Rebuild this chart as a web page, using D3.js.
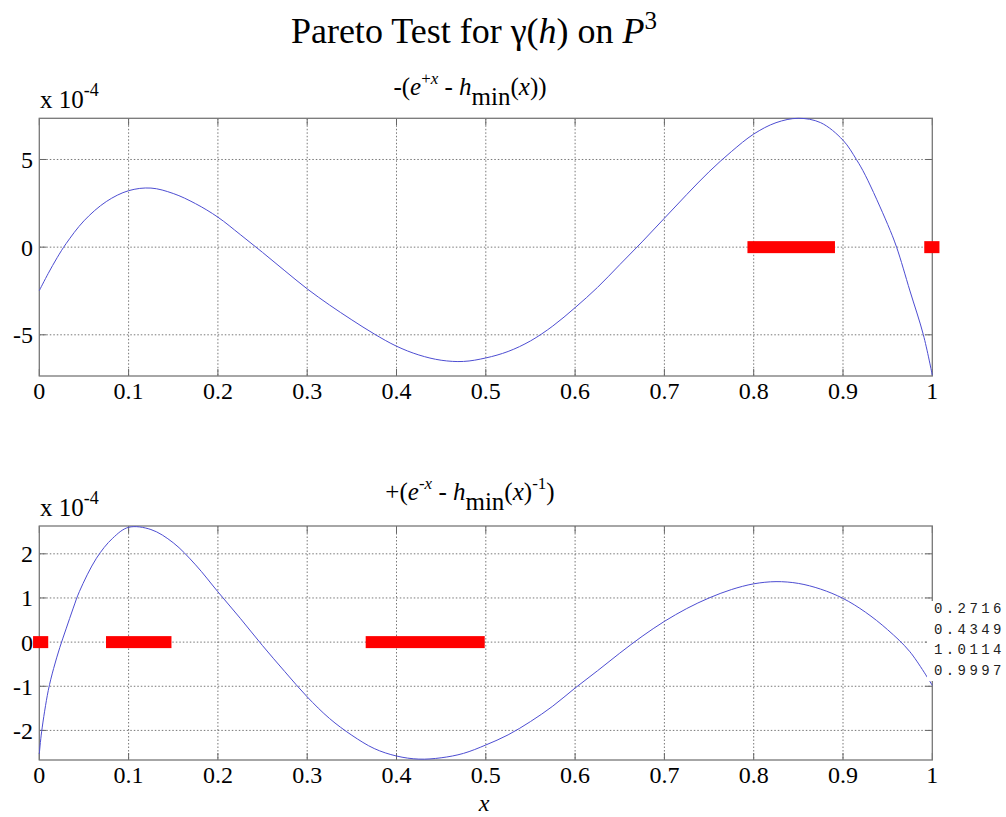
<!DOCTYPE html>
<html>
<head>
<meta charset="utf-8">
<script src="https://cdn.jsdelivr.net/npm/d3@7"></script>
<style>
  body { margin: 0; background: #fff; }
  svg { display: block; }
</style>
</head>
<body>
<div id="container"></div>
<script>
// values, in units of 1e-4
const topX = [0, 0.01, 0.02, 0.03, 0.05, 0.075, 0.1, 0.125, 0.15, 0.175, 0.2, 0.225, 0.25, 0.275, 0.3, 0.325, 0.35, 0.375, 0.4, 0.425, 0.45, 0.475, 0.5,
  0.525, 0.55, 0.575, 0.6, 0.625, 0.65, 0.675, 0.7, 0.725, 0.75, 0.775, 0.8, 0.825, 0.85, 0.875, 0.9, 0.915, 0.925, 0.95, 0.96, 0.975, 0.99, 1];
const topY = [-2.48, -1.5, -0.6, 0.2, 1.5, 2.6, 3.22, 3.37, 3.06, 2.48, 1.71, 0.72, -0.3, -1.35, -2.38, -3.3, -4.15, -4.95, -5.65, -6.15, -6.45, -6.52, -6.32,
  -5.95, -5.35, -4.5, -3.45, -2.3, -1.0, 0.3, 1.65, 3.0, 4.3, 5.45, 6.45, 7.1, 7.35, 7.1, 6.1, 5.0, 4.1, 1.3, 0, -2.5, -5.0, -7.3];

const botX = [0, 0.0026, 0.01, 0.016, 0.023, 0.03, 0.038, 0.045, 0.064, 0.082, 0.1, 0.125, 0.15, 0.175, 0.2, 0.225, 0.25, 0.275, 0.3, 0.325, 0.35, 0.375, 0.4, 0.425, 0.45, 0.475, 0.5,
  0.525, 0.55, 0.575, 0.6, 0.625, 0.65, 0.675, 0.7, 0.725, 0.75, 0.775, 0.8, 0.825, 0.85, 0.875, 0.9, 0.925, 0.95, 0.975, 1];
const botY = [-2.53, -2.03, -1.1, -0.6, -0.12, 0.3, 0.77, 1.15, 1.9, 2.35, 2.6, 2.55, 2.25, 1.75, 1.14, 0.54, -0.08, -0.67, -1.24, -1.73, -2.11, -2.41, -2.58, -2.65, -2.62, -2.52, -2.33,
  -2.1, -1.8, -1.45, -1.04, -0.65, -0.25, 0.13, 0.47, 0.76, 1.0, 1.19, 1.32, 1.37, 1.33, 1.2, 0.99, 0.68, 0.28, -0.22, -0.98];

// red intervals on the zero line
const topBars = [[0.793, 0.891], [0.991, 1.008]];
const botBars = [[-0.007, 0.01], [0.0747, 0.148], [0.3655, 0.4988]];

const xTicks = [0, 0.1, 0.2, 0.3, 0.4, 0.5, 0.6, 0.7, 0.8, 0.9, 1];
const topTicks = [-5, 0, 5];
const botTicks = [-2, -1, 0, 1, 2];
const sideNumbers = ["0.2716", "0.4349", "1.0114", "0.9997"];

const width = 1006, height = 817;
const left = 39.3, right = 932.3;

const svg = d3.select("#container").append("svg")
  .attr("width", width)
  .attr("height", height);

const x = d3.scaleLinear().domain([0, 1]).range([left, right]);

function panel(top, bottom, yDomain, yTicks, xs, ys, bars) {
  const y = d3.scaleLinear().domain(yDomain).range([bottom, top]);
  const g = svg.append("g");

  // grid
  g.selectAll(".vg").data(xTicks.slice(1, -1)).enter().append("line")
    .attr("x1", d => x(d)).attr("x2", d => x(d))
    .attr("y1", top).attr("y2", bottom)
    .attr("stroke", "#555").attr("stroke-width", 0.8).attr("stroke-dasharray", "1.5,2");
  g.selectAll(".hg").data(yTicks).enter().append("line")
    .attr("x1", left).attr("x2", right)
    .attr("y1", d => y(d)).attr("y2", d => y(d))
    .attr("stroke", "#555").attr("stroke-width", 0.8).attr("stroke-dasharray", "1.5,2");

  // inward ticks
  xTicks.forEach(t => {
    g.append("line").attr("x1", x(t)).attr("x2", x(t)).attr("y1", bottom).attr("y2", bottom - 7)
      .attr("stroke", "#666").attr("stroke-width", 1);
    g.append("line").attr("x1", x(t)).attr("x2", x(t)).attr("y1", top).attr("y2", top + 7)
      .attr("stroke", "#666").attr("stroke-width", 1);
  });
  yTicks.forEach(t => {
    g.append("line").attr("x1", left).attr("x2", left + 7).attr("y1", y(t)).attr("y2", y(t))
      .attr("stroke", "#666").attr("stroke-width", 1);
    g.append("line").attr("x1", right).attr("x2", right - 7).attr("y1", y(t)).attr("y2", y(t))
      .attr("stroke", "#666").attr("stroke-width", 1);
  });

  // box
  g.append("rect").attr("x", left).attr("y", top)
    .attr("width", right - left).attr("height", bottom - top)
    .attr("fill", "none").attr("stroke", "#777").attr("stroke-width", 1.3);

  // curve
  const line = d3.line().x(d => x(d[0])).y(d => y(d[1])).curve(d3.curveCatmullRom);
  g.append("path").datum(d3.zip(xs, ys))
    .attr("d", line)
    .attr("fill", "none").attr("stroke", "#4d4dd2").attr("stroke-width", 1);

  // red intervals
  g.selectAll(".bar").data(bars).enter().append("rect")
    .attr("x", d => x(d[0])).attr("width", d => x(d[1]) - x(d[0]))
    .attr("y", y(0) - 6).attr("height", 12)
    .attr("fill", "#ff0000");

  // tick labels
  g.selectAll(".xl").data(xTicks).enter().append("text")
    .attr("x", d => x(d)).attr("y", bottom + 23)
    .attr("text-anchor", "middle").attr("font-size", 24)
    .text(d => d3.format("~g")(d));
  g.selectAll(".yl").data(yTicks).enter().append("text")
    .attr("x", 33).attr("y", d => y(d)).attr("dy", "0.35em")
    .attr("text-anchor", "end").attr("font-size", 24)
    .text(d => d);

  // exponent label
  const ex = g.append("text").attr("x", 40).attr("y", top - 10).attr("font-size", 25);
  ex.append("tspan").text("x 10");
  ex.append("tspan").attr("dy", -12).attr("font-size", 18).text("-4");

  return y;
}

panel(118.3, 376, [-7.35, 7.35], topTicks, topX, topY, topBars);
panel(526, 760, [-2.67, 2.63], botTicks, botX, botY, botBars);

// main title
const t = svg.append("text").attr("x", 474).attr("y", 43)
  .attr("text-anchor", "middle").attr("font-size", 36);
t.append("tspan").text("Pareto Test for γ(");
t.append("tspan").attr("font-style", "italic").text("h");
t.append("tspan").text(") on ");
t.append("tspan").attr("font-style", "italic").text("P");
t.append("tspan").attr("dy", -14).attr("font-size", 25).text("3");

// subplot titles
function subTitle(yPos, sign, expSign, tailExp) {
  const s = svg.append("text").attr("x", 470).attr("y", yPos)
    .attr("text-anchor", "middle").attr("font-size", 25);
  s.append("tspan").text(sign + "(");
  s.append("tspan").attr("font-style", "italic").text("e");
  s.append("tspan").attr("dy", -11).attr("font-size", 17).text(expSign);
  s.append("tspan").attr("font-style", "italic").attr("font-size", 17).text("x");
  s.append("tspan").attr("dy", 11).text(" - ");
  s.append("tspan").attr("font-style", "italic").text("h");
  s.append("tspan").attr("dy", 10).text("min");
  s.append("tspan").attr("dy", -10).text("(");
  s.append("tspan").attr("font-style", "italic").text("x");
  s.append("tspan").text(")");
  if (tailExp) {
    s.append("tspan").attr("dy", -11).attr("font-size", 17).text(tailExp);
    s.append("tspan").attr("dy", 11).text(")");
  } else {
    s.append("tspan").text(")");
  }
}
subTitle(95, "-", "+", null);
subTitle(500, "+", "-", "-1");

// x label
svg.append("text").attr("x", 484).attr("y", 811)
  .attr("text-anchor", "middle").attr("font-size", 24).attr("font-style", "italic")
  .text("x");

// every serif text gets the font directly
svg.selectAll("text").style("font-family", "'Liberation Serif'");

// side numbers with their white backing
svg.append("rect").attr("x", 927).attr("y", 601).attr("width", 79).attr("height", 80).attr("fill", "#fff");
svg.selectAll(".side").data(sideNumbers).enter().append("text")
  .attr("class", "side")
  .attr("x", 934).attr("y", (d, i) => 613 + i * 20.5)
  .style("font-family", "'Liberation Mono'")
  .attr("font-size", 14).attr("letter-spacing", 3.4)
  .attr("fill", "#222")
  .text(d => d);
</script>
</body>
</html>
